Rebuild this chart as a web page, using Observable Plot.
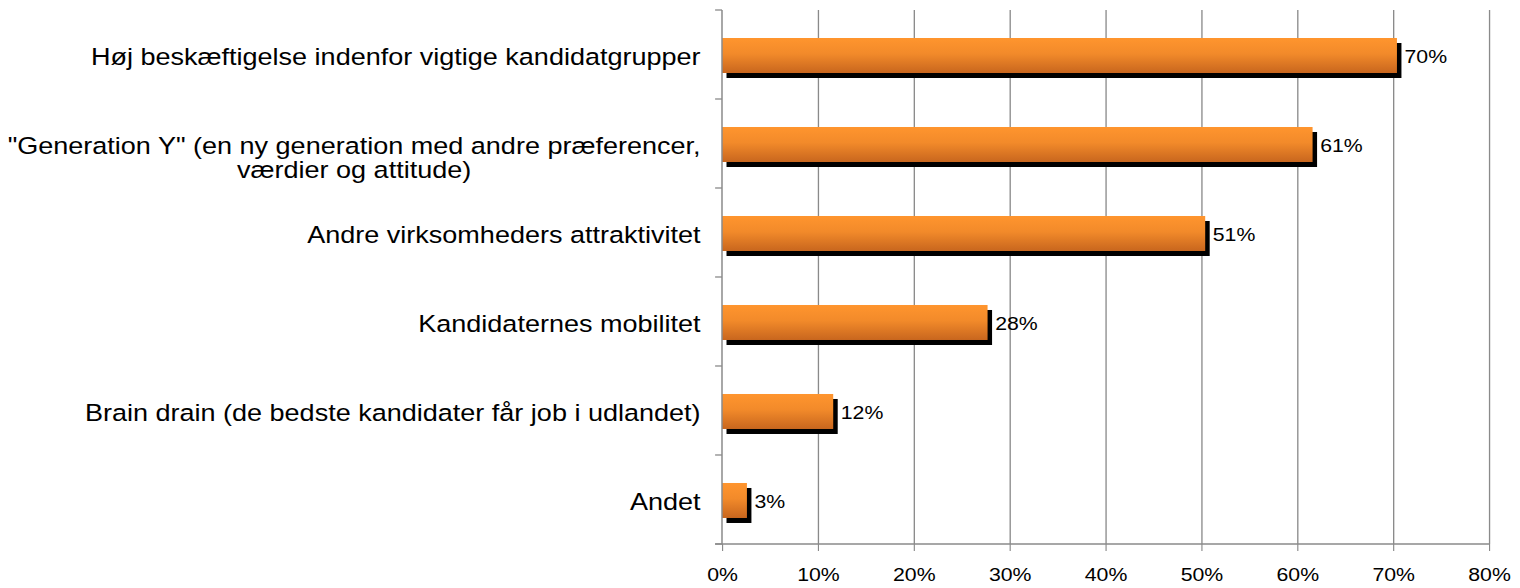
<!DOCTYPE html>
<html><head><meta charset="utf-8">
<script src="https://cdn.jsdelivr.net/npm/d3@7"></script>
<script src="https://cdn.jsdelivr.net/npm/@observablehq/plot@0.6"></script>
<style>
html,body{margin:0;padding:0;background:#fff;overflow:hidden}
#chart{width:1520px;height:588px;overflow:hidden;position:relative}
#chart svg{transform:scaleX(1.15);transform-origin:0 0;display:block;overflow:visible}
</style></head><body><div id="chart"></div>
<script>
const categories = [
  "Høj beskæftigelse indenfor vigtige kandidatgrupper",
  "\"Generation Y\" (en ny generation med andre præferencer,\nværdier og attitude)",
  "Andre virksomheders attraktivitet",
  "Kandidaternes mobilitet",
  "Brain drain (de bedste kandidater får job i udlandet)",
  "Andet"
];
const values = [70.4, 61.6, 50.4, 27.7, 11.6, 2.6];
const valueLabels = ["70%", "61%", "51%", "28%", "12%", "3%"];
const xTicks = [0, 10, 20, 30, 40, 50, 60, 70, 80];
const xTickLabels = ["0%", "10%", "20%", "30%", "40%", "50%", "60%", "70%", "80%"];

const S = 1.15;
const W = 1520 / S;
const rows = categories.map((c, i) => ({cat: c, value: values[i], label: valueLabels[i]}));
const FONT = "'Liberation Sans', Arial, sans-serif";
const GRAY = "#8a8a8a";

const defs = () => {
  const g = d3.create("svg:g");
  const lg = g.append("defs").append("linearGradient")
    .attr("id", "barGrad").attr("x1", 0).attr("y1", 0).attr("x2", 0).attr("y2", 1);
  lg.append("stop").attr("offset", "0%").attr("stop-color", "#FF952E");
  lg.append("stop").attr("offset", "45%").attr("stop-color", "#F28A2A");
  lg.append("stop").attr("offset", "100%").attr("stop-color", "#C8661E");
  return g.node();
};

const frameLines = (index, scales, vals, dims) => {
  const g = d3.create("svg:g");
  const top = dims.marginTop, bottom = dims.height - dims.marginBottom;
  const left = dims.marginLeft, right = dims.width - dims.marginRight;
  const step = (bottom - top) / categories.length;
  const bounds = d3.range(categories.length + 1).map(i => top + i * step);
  g.selectAll("line.b").data(bounds).join("line")
    .attr("x1", left - 6).attr("x2", left)
    .attr("y1", d => d).attr("y2", d => d)
    .attr("stroke", GRAY).attr("stroke-width", 1.3);
  g.append("line").attr("x1", left).attr("x2", left).attr("y1", top).attr("y2", bottom)
    .attr("stroke", GRAY).attr("stroke-width", 1.3);
  g.append("line").attr("x1", left - 6).attr("x2", right).attr("y1", bottom).attr("y2", bottom)
    .attr("stroke", GRAY).attr("stroke-width", 1.6);
  return g.node();
};

const plot = Plot.plot({
  width: W,
  height: 588,
  marginTop: 10,
  marginBottom: 44,
  marginLeft: 722 / S,
  marginRight: W - 1489 / S,
  style: {fontFamily: FONT, color: "black", background: "white", overflow: "visible"},
  x: {domain: [0, 80]},
  y: {domain: categories, padding: 0, axis: null},
  marks: [
    defs,
    Plot.ruleX(xTicks.slice(1), {stroke: GRAY, strokeWidth: 1.15}),
    Plot.barX(rows, {x: "value", y: "cat", fill: "black", insetTop: 28, insetBottom: 26, dx: 4.5 / S, dy: 5}),
    Plot.barX(rows, {x: "value", y: "cat", fill: "url(#barGrad)", insetTop: 28, insetBottom: 26}),
    Plot.text(rows, {x: "value", y: "cat", text: "label", textAnchor: "start", dx: 7 / S, dy: 2.5, fontSize: 18.5, fill: "black"}),
    Plot.text(rows, {y: "cat", text: "cat", frameAnchor: "left", textAnchor: "end", lineAnchor: "top", dx: -22 / S, dy: -7.5, fontSize: 23.5, lineHeight: 1.03, fill: "black"}),
    Plot.axisX({ticks: xTicks, tickFormat: (d, i) => xTickLabels[xTicks.indexOf(d)], tickSize: 7, tickPadding: 16, fontSize: 18.5, stroke: GRAY, fill: "black", label: null}),
    frameLines
  ]
});

document.getElementById("chart").appendChild(plot);

// center the lines of a multi-line category label on each other (right-aligned block)
plot.querySelectorAll("text").forEach(t => {
  const ts = t.querySelectorAll("tspan");
  if (ts.length > 1) {
    const widths = Array.from(ts, s => s.getComputedTextLength());
    const maxW = Math.max(...widths);
    ts.forEach((s, i) => s.setAttribute("dx", -(maxW - widths[i]) / 2));
  }
});
</script>
</body></html>
